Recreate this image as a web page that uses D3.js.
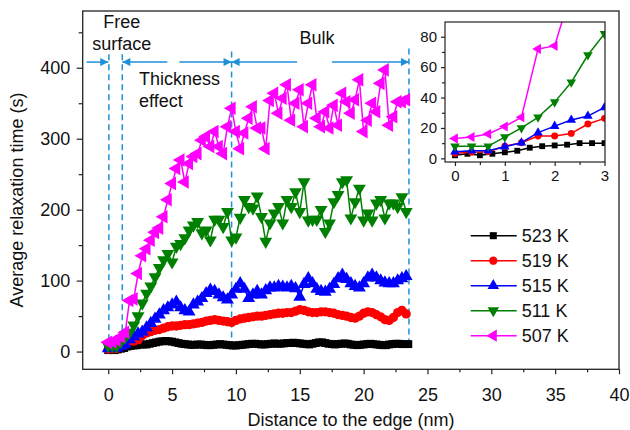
<!DOCTYPE html>
<html>
<head>
<meta charset="utf-8">
<script src="https://cdn.jsdelivr.net/npm/d3@7/dist/d3.min.js"></script>
<style>
  body { margin: 0; background: #fff; }
  svg { display: block; font-family: "Liberation Sans", Arial, Helvetica, sans-serif; }
</style>
</head>
<body>
<div id="chart"></div>
<script>
// ---- data ----
const seriesNames = ['523 K', '519 K', '515 K', '511 K', '507 K'];
const stepFine = 0.25;     // 523 K sampled every 0.25 nm
const stepCoarse = 1 / 3;  // other temperatures every 1/3 nm

const tau523 = [2,3,2,3,4,5,7,8,8.5,9,10,10,10,
  11,12,13,14,14.5,15,14.5,14,13,12,11,10.5,
  10,9.5,9.5,10,10,9.5,9,9,9.5,10,10.5,10,
  9.5,9,8.5,8.5,9,9.5,10,10.5,11,11,10.5,10,
  10,10.5,11,11.5,11,11,11.5,12,12,12.5,12,11.5,
  11,10.5,10,11,12,13,13,12,11,10.5,10,10.5,
  11,11.5,11,10,9.5,9,9.5,10,10.5,11,10.5,10,
  9.5,9,9,10,10.5,11,11,10.5,10.5,10.5];
const tau519 = [3.3,4,4.4,8,10.3,14.7,14.7,16.4,22.6,26.3,
  28,30,31,33,35,36,36,37,38,38,
  39,40,41,43,44,45,44,43,42,41,
  44,46,47,48,49,50,50,51,52,53,
  54,54,55,55,57,59,58,56,55,55,
  56,56,55,54,52,51,50,48,47,50,
  54,56,55,52,49,45,44,48,55,58,53];
const tau515 = [4.4,5,5,7.6,10.3,16.9,21.2,25.2,27.8,33.5,
  40,46,52,58,62,66,70,62,58,56,
  66,70,75,82,87,85,80,76,73,80,
  88,96,88,75,80,85,80,86,90,90,
  92,91,90,92,89,77,95,103,96,88,
  85,84,88,95,103,108,102,96,92,90,
  96,104,108,104,100,97,96,96,100,103,106];
const tau511 = [8,8,8,14,20,27,37,50,68,82,
  92,105,118,129,138,126,148,152,160,171,
  178,183,167,171,157,186,186,176,197,157,
  161,189,214,204,202,219,190,155,181,195,
  204,181,214,204,225,197,239,185,186,186,
  200,169,181,211,221,239,242,188,211,230,
  185,195,185,209,214,188,209,209,204,218,197];
const tau507 = [13,14,16,21,27,72,74,110,135,145,
  157,168,174,190,214,237,258,270,239,265,
  275,279,298,303,289,310,289,279,317,343,
  310,286,308,329,345,315,315,286,354,364,
  336,357,376,326,350,369,317,350,376,329,
  317,338,315,347,319,364,352,336,355,383,
  310,326,350,338,378,397,319,331,352,352,355];

const yTicksMain = [0, 100, 200, 300, 400];
const xTicksMain = [0, 5, 10, 15, 20, 25, 30, 35, 40];
const yTicksInset = [0, 20, 40, 60, 80];
const xTicksInset = [0, 1, 2, 3];

// region boundaries (nm) and annotation text
const regionBounds = [0.05, 1.1, 9.66, 23.55];
const arrowSegs = [[-1.7, 0, 'end'], [1.1, 4.63, 'start'], [5.57, 9.66, 'end'], [9.66, 14.79, 'start'], [17.52, 23.55, 'end']];

// ---- styling ----
const colors = ['#000000', '#ff0000', '#0000ff', '#008000', '#ff00ff'];
const shapes = [
  { type: d3.symbolSquare, rot: 0, size: 62 },
  { type: d3.symbolCircle, rot: 0, size: 68 },
  { type: d3.symbolTriangle, rot: 0, size: 72 },
  { type: d3.symbolTriangle, rot: 180, size: 72 },
  { type: d3.symbolTriangle, rot: -90, size: 80 },
];
const annoColor = '#1f8fd6';
const series = [tau523, tau519, tau515, tau511, tau507].map((vals, k) => ({
  name: seriesNames[k], color: colors[k], shape: shapes[k],
  pts: vals.map((v, i) => ({ x: i * (k === 0 ? stepFine : stepCoarse), y: v }))
}));

const W = 630, H = 430;
const svg = d3.select('#chart').append('svg').attr('width', W).attr('height', H);
const defs = svg.append('defs');

// ---- main plot ----
const frame = { left: 82.7, right: 619, top: 11, bottom: 369.3 };
const x = d3.scaleLinear().domain([-2, 40]).range([frame.left, frame.right]);
const y = d3.scaleLinear().domain([-25, 480]).range([frame.bottom, frame.top]);

function styleAxis(g, fs) {
  g.select('.domain').remove();
  g.selectAll('line').attr('stroke', '#222').attr('stroke-width', 1.2);
  g.selectAll('text').attr('fill', '#111').style('font-size', fs + 'px').style('font-family', 'inherit');
}

// minor ticks
svg.append('g').attr('transform', `translate(${frame.left},0)`)
  .call(d3.axisLeft(y).tickValues([50, 150, 250, 350, 450]).tickSize(4).tickFormat(''))
  .call(g => styleAxis(g, 18));
svg.append('g').attr('transform', `translate(0,${frame.bottom})`)
  .call(d3.axisBottom(x).tickValues(d3.range(2.5, 40, 5)).tickSize(3).tickFormat(''))
  .call(g => styleAxis(g, 18));
// major ticks
svg.append('g').attr('transform', `translate(${frame.left},0)`)
  .call(d3.axisLeft(y).tickValues(yTicksMain).tickSize(6).tickPadding(6.5))
  .call(g => styleAxis(g, 18));
svg.append('g').attr('transform', `translate(0,${frame.bottom})`)
  .call(d3.axisBottom(x).tickValues(xTicksMain).tickSize(5).tickPadding(13.5))
  .call(g => styleAxis(g, 18));

svg.append('rect').attr('x', frame.left).attr('y', frame.top)
  .attr('width', frame.right - frame.left).attr('height', frame.bottom - frame.top)
  .attr('fill', 'none').attr('stroke', '#222').attr('stroke-width', 1.3);

svg.append('text').attr('x', 351).attr('y', 426).attr('text-anchor', 'middle')
  .style('font-size', '18px').attr('fill', '#111').text('Distance to the edge (nm)');
svg.append('text').attr('transform', 'translate(23,200) rotate(-90)').attr('text-anchor', 'middle')
  .style('font-size', '18px').attr('fill', '#111').text('Average relaxation time (s)');

// annotations: region boundaries + arrows
defs.append('marker').attr('id', 'arr').attr('viewBox', '0 0 10 10').attr('refX', 10).attr('refY', 5)
  .attr('markerUnits', 'userSpaceOnUse').attr('markerWidth', 10).attr('markerHeight', 8)
  .attr('orient', 'auto-start-reverse')
  .append('path').attr('d', 'M0,0L10,5L0,10Z').attr('fill', annoColor);

const anno = svg.append('g');
anno.selectAll('line.bound').data(regionBounds).join('line').attr('class', 'bound')
  .attr('x1', d => x(d)).attr('x2', d => x(d))
  .attr('y1', (d, i) => y(i === 3 ? 427 : i === 2 ? 423 : 419)).attr('y2', y(5))
  .attr('stroke', annoColor).attr('stroke-width', 1.5).attr('stroke-dasharray', '6,4');
anno.selectAll('line.arrow').data(arrowSegs).join('line').attr('class', 'arrow')
  .attr('x1', d => x(d[0])).attr('x2', d => x(d[1]))
  .attr('y1', y(408)).attr('y2', y(408))
  .attr('stroke', annoColor).attr('stroke-width', 1.5)
  .attr('marker-end', d => d[2] === 'end' ? 'url(#arr)' : null)
  .attr('marker-start', d => d[2] === 'start' ? 'url(#arr)' : null);

const annoText = [
  { t: 'Free', x: 121.7, y: 28, a: 'middle' },
  { t: 'surface', x: 121.7, y: 49.5, a: 'middle' },
  { t: 'Thickness', x: 139, y: 85, a: 'start' },
  { t: 'effect', x: 139, y: 106.5, a: 'start' },
  { t: 'Bulk', x: 317, y: 44, a: 'middle' },
];
anno.selectAll('text').data(annoText).join('text')
  .attr('x', d => d.x).attr('y', d => d.y).attr('text-anchor', d => d.a)
  .style('font-size', '18px').attr('fill', '#111').text(d => d.t);

// series
function drawSeries(g, xs, ys, data, sizeScale, lw) {
  const line = d3.line().x(d => xs(d.x)).y(d => ys(d.y));
  data.forEach(s => {
    const sg = g.append('g');
    sg.append('path').datum(s.pts).attr('d', line).attr('fill', 'none')
      .attr('stroke', s.color).attr('stroke-width', lw).attr('stroke-linejoin', 'round');
    const sym = d3.symbol().type(s.shape.type).size(s.shape.size * sizeScale);
    sg.selectAll('path.m').data(s.pts).join('path').attr('class', 'm')
      .attr('d', sym)
      .attr('transform', d => `translate(${xs(d.x)},${ys(d.y)}) rotate(${s.shape.rot})`)
      .attr('fill', s.color);
  });
}
drawSeries(svg.append('g'), x, y, series, 1, 1.5);

// legend
const leg = svg.append('g');
seriesNames.forEach((nm, k) => {
  const ly = 235.7 + k * 25;
  const s = series[k];
  leg.append('line').attr('x1', 470.7).attr('x2', 516.7).attr('y1', ly).attr('y2', ly)
    .attr('stroke', s.color).attr('stroke-width', 1.5);
  leg.append('path').attr('d', d3.symbol().type(s.shape.type).size(s.shape.size * 0.8)())
    .attr('transform', `translate(493.3,${ly}) rotate(${s.shape.rot})`).attr('fill', s.color);
  leg.append('text').attr('x', 521.7).attr('y', ly).attr('dy', '0.35em')
    .style('font-size', '18px').attr('fill', '#111').text(nm);
});

// ---- inset ----
const inF = { left: 445, right: 605, top: 22, bottom: 162 };
const xi = d3.scaleLinear().domain([-0.2, 3.01]).range([inF.left, inF.right]);
const yi = d3.scaleLinear().domain([-2.4, 89.7]).range([inF.bottom, inF.top]);
const inset = svg.append('g');
inset.append('rect').attr('x', inF.left).attr('y', inF.top)
  .attr('width', inF.right - inF.left).attr('height', inF.bottom - inF.top).attr('fill', '#fff');
defs.append('clipPath').attr('id', 'inclip').append('rect')
  .attr('x', inF.left).attr('y', inF.top).attr('width', inF.right - inF.left).attr('height', inF.bottom - inF.top);

inset.append('g').attr('transform', `translate(${inF.left},0)`)
  .call(d3.axisLeft(yi).tickValues([10, 30, 50, 70]).tickSize(3).tickFormat(''))
  .call(g => styleAxis(g, 15));
inset.append('g').attr('transform', `translate(0,${inF.bottom})`)
  .call(d3.axisBottom(xi).tickValues([0.5, 1.5, 2.5]).tickSize(3).tickFormat(''))
  .call(g => styleAxis(g, 15));
inset.append('g').attr('transform', `translate(${inF.left},0)`)
  .call(d3.axisLeft(yi).tickValues(yTicksInset).tickSize(4).tickPadding(4).tickFormat(d3.format('d')))
  .call(g => styleAxis(g, 15));
inset.append('g').attr('transform', `translate(0,${inF.bottom})`)
  .call(d3.axisBottom(xi).tickValues(xTicksInset).tickSize(4).tickPadding(4).tickFormat(d3.format('d')))
  .call(g => styleAxis(g, 15));

const insetSeries = series.map(s => ({ ...s, pts: s.pts.filter(p => p.x <= 3.01) }));
drawSeries(inset.append('g').attr('clip-path', 'url(#inclip)'), xi, yi, insetSeries, 0.55, 1.5);

inset.append('rect').attr('x', inF.left).attr('y', inF.top)
  .attr('width', inF.right - inF.left).attr('height', inF.bottom - inF.top)
  .attr('fill', 'none').attr('stroke', '#222').attr('stroke-width', 1.2);
</script>
</body>
</html>
